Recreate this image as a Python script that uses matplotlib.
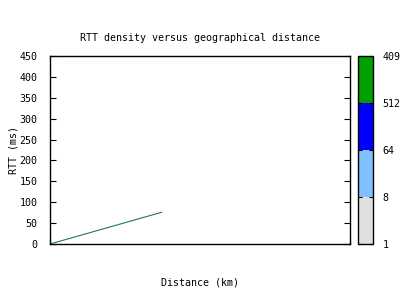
import matplotlib
matplotlib.use('Agg')
import matplotlib.pyplot as plt
import matplotlib.colors as mcolors
import matplotlib.colorbar as mcolorbar

plt.rcParams['font.family'] = ['DejaVu Sans Mono']
plt.rcParams['font.size'] = 7.2

# speed-of-light reference line
line_km = [0, 7450]
line_ms = [0, 76]

y_ticks = [0, 50, 100, 150, 200, 250, 300, 350, 400, 450]
x_max = 20000

density_bounds = [1, 8, 64, 512, 4096]
density_labels = ['1', '8', '64', '512', '4096']
density_colors = ['#e0e0e0', '#80c0ff', '#0000ff', '#00a000']

fig = plt.figure(figsize=(4, 3), dpi=100)
ax = fig.add_axes([0.125, 0.1867, 0.75, 0.6266])

ax.plot(line_km, line_ms, color='#227a4a', linewidth=0.8)
ax.set_xlim(0, x_max)
ax.set_ylim(0, 450)
ax.set_yticks(y_ticks)
ax.set_xticks([0, x_max])
ax.set_xticklabels([])
ax.tick_params(direction='in', length=4, width=0.8, right=True, pad=9)
for s in ax.spines.values():
    s.set_linewidth(1.0)

ax.set_title('RTT density versus geographical distance', fontsize=7.2, pad=11)
ax.set_xlabel('Distance (km)', labelpad=15)
ax.set_ylabel('RTT (ms)', labelpad=1)

cax = fig.add_axes([0.895, 0.1867, 0.0375, 0.6266])
cmap = mcolors.ListedColormap(density_colors)
norm = mcolors.BoundaryNorm(density_bounds, cmap.N)
cb = mcolorbar.ColorbarBase(cax, cmap=cmap, norm=norm, ticks=density_bounds,
                            spacing='uniform')
cb.set_ticklabels(density_labels)
cb.outline.set_linewidth(1.0)
cax.tick_params(direction='in', length=3, width=0.8, pad=7, left=True)

fig.savefig('out.png', dpi=100)
